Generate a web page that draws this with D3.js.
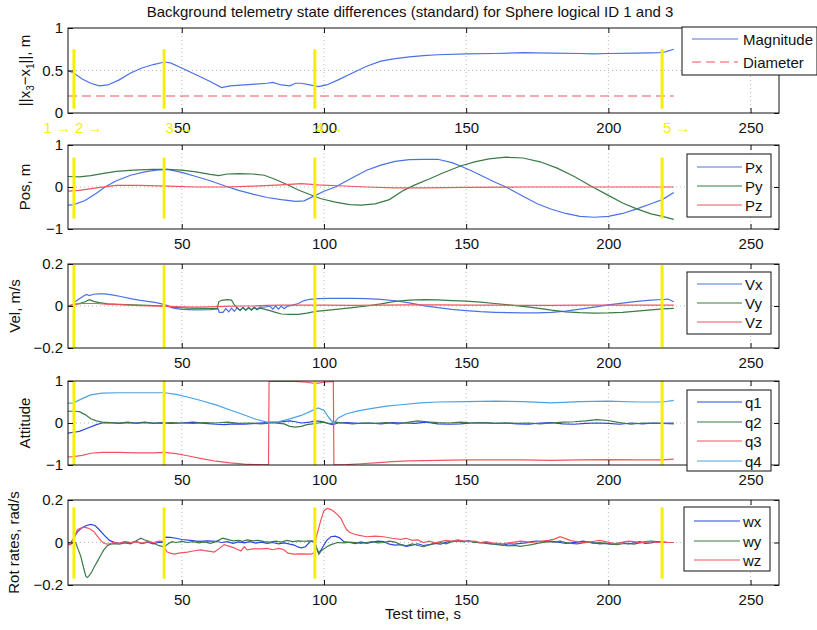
<!DOCTYPE html>
<html>
<head>
<meta charset="utf-8">
<script src="https://cdn.jsdelivr.net/npm/d3@7"></script>
<style>
  body { margin: 0; background: #fff; }
  svg { display: block; font-family: "Liberation Sans", Arial, Helvetica, sans-serif; }
</style>
</head>
<body>
<svg id="chart" width="817" height="630"></svg>
<script>
// ---- Data: [time (s), value] ----
const xTicks = [50, 100, 150, 200, 250];
const eventTimes = [1.0, 12.1, 43.8, 96.8, 218.9];
const eventLabels = ["1 \u2192", "2 \u2192", "3 \u2192", "4 \u2192", "5 \u2192"];

const magnitude = [[10,0.50],[12,0.47],[15,0.40],[18,0.35],[21,0.32],[24,0.33],[28,0.39],[32,0.47],[36,0.53],[40,0.57],[44,0.60],[46,0.59],[50,0.53],[55,0.45],[60,0.37],[64,0.30],[67,0.32],[72,0.33],[76,0.34],[80,0.35],[82,0.36],[85,0.33],[88,0.32],[90,0.35],[92,0.35],[95,0.33],[98,0.31],[101,0.33],[105,0.39],[110,0.47],[115,0.55],[120,0.61],[125,0.64],[130,0.66],[135,0.675],[140,0.685],[150,0.695],[160,0.70],[170,0.71],[180,0.705],[190,0.70],[195,0.695],[200,0.70],[210,0.705],[218,0.71],[220,0.72],[223,0.75]];
const diameter = [[10,0.2],[223,0.2]];

const posX = [[10,-0.43],[12,-0.42],[16,-0.32],[20,-0.15],[23,0.0],[27,0.15],[32,0.28],[37,0.36],[41,0.40],[45,0.42],[50,0.35],[55,0.25],[60,0.15],[65,0.03],[70,-0.08],[75,-0.17],[80,-0.25],[85,-0.30],[90,-0.34],[93,-0.33],[97,-0.20],[100,-0.10],[104,0.0],[110,0.22],[115,0.40],[120,0.52],[125,0.61],[130,0.65],[135,0.66],[140,0.66],[145,0.58],[148,0.50],[152,0.38],[156,0.25],[160,0.12],[164,0.0],[170,-0.22],[175,-0.40],[180,-0.53],[185,-0.63],[190,-0.70],[195,-0.72],[200,-0.70],[205,-0.63],[210,-0.52],[215,-0.40],[219,-0.30],[223,-0.13]];
const posY = [[10,0.25],[14,0.24],[18,0.27],[22,0.32],[27,0.37],[33,0.40],[40,0.42],[45,0.42],[50,0.40],[55,0.36],[60,0.30],[63,0.27],[66,0.31],[70,0.32],[75,0.31],[79,0.28],[83,0.18],[87,0.06],[91,-0.07],[95,-0.18],[99,-0.28],[104,-0.36],[109,-0.42],[113,-0.43],[118,-0.40],[123,-0.30],[128,-0.08],[132,0.05],[137,0.19],[142,0.34],[148,0.50],[153,0.60],[158,0.67],[164,0.71],[170,0.69],[176,0.60],[182,0.45],[188,0.25],[194,0.02],[200,-0.20],[205,-0.38],[210,-0.52],[215,-0.64],[219,-0.70],[223,-0.77]];
const posZ = [[10,-0.10],[14,-0.08],[20,-0.02],[27,0.04],[35,0.04],[45,0.02],[55,0.0],[65,0.0],[75,0.02],[85,0.05],[92,0.08],[98,0.05],[105,0.03],[115,0.0],[125,-0.02],[135,-0.02],[150,-0.01],[170,0.0],[190,0.0],[210,0.0],[223,0.0]];

const velX = [[10,0.0],[11.5,0.002],[12.5,0.02],[14,0.035],[15.5,0.048],[16.5,0.055],[17.5,0.05],[19,0.056],[21,0.058],[23,0.058],[26,0.052],[29,0.044],[32,0.035],[35,0.028],[38,0.022],[41,0.016],[43,0.01],[45,0.002],[47,-0.01],[50,-0.016],[55,-0.018],[60,-0.017],[62.8,-0.014],[63.2,-0.03],[64.5,-0.03],[65.5,-0.012],[66.5,-0.028],[67.5,-0.01],[68.5,-0.025],[69.5,-0.008],[70.5,-0.022],[71.5,-0.006],[72.5,-0.02],[73.5,-0.006],[74.5,-0.018],[75.5,-0.005],[76.5,-0.015],[77.5,-0.004],[79,-0.006],[81,0.0],[82,-0.015],[83,0.0],[84,-0.015],[85,0.0],[86,-0.013],[87,-0.002],[89,0.004],[91,0.012],[93,0.026],[95,0.032],[98,0.035],[102,0.036],[106,0.037],[110,0.036],[115,0.035],[120,0.032],[125,0.025],[130,0.015],[135,0.002],[140,-0.008],[145,-0.016],[150,-0.022],[155,-0.027],[160,-0.030],[165,-0.032],[170,-0.033],[175,-0.033],[180,-0.030],[185,-0.024],[190,-0.015],[195,-0.005],[200,0.005],[205,0.014],[210,0.022],[215,0.028],[219,0.031],[221,0.033],[223,0.020]];
const velY = [[10,0.0],[12,0.005],[14,0.012],[16,0.02],[17.5,0.03],[19,0.022],[21,0.016],[24,0.01],[28,0.008],[33,0.005],[38,0.003],[44,0.0],[47,-0.006],[52,-0.01],[58,-0.012],[62.5,-0.012],[63,0.02],[64,0.027],[66,0.03],[67.5,0.028],[68.5,0.005],[69.5,-0.01],[70.5,-0.02],[71.5,-0.008],[72.5,-0.02],[73.5,-0.008],[74.5,-0.02],[75.5,-0.008],[76.5,-0.018],[77.5,-0.01],[79,-0.015],[81,-0.022],[83,-0.03],[85,-0.038],[88,-0.04],[91,-0.04],[94,-0.034],[97,-0.026],[100,-0.022],[105,-0.015],[110,-0.008],[115,0.0],[120,0.01],[125,0.022],[130,0.028],[135,0.03],[140,0.029],[145,0.026],[150,0.023],[155,0.018],[160,0.012],[165,0.005],[170,-0.002],[175,-0.01],[180,-0.02],[185,-0.028],[190,-0.032],[195,-0.034],[200,-0.033],[205,-0.03],[210,-0.024],[215,-0.018],[219,-0.014],[223,-0.011]];
const velZ = [[10,0.0],[12,0.008],[15,0.012],[20,0.012],[25,0.008],[30,0.005],[35,0.002],[40,0.0],[45,-0.002],[50,-0.004],[55,-0.005],[60,-0.004],[65,-0.002],[70,0.0],[75,0.0],[80,0.003],[85,0.004],[90,0.004],[95,0.004],[100,0.004],[110,0.003],[120,0.004],[130,0.005],[140,0.005],[150,0.004],[160,0.004],[170,0.003],[180,0.003],[190,0.004],[200,0.004],[210,0.004],[219,0.004],[223,0.004]];

const q1 = [[10,-0.24],[12,-0.22],[14,-0.2],[17,-0.12],[20,-0.04],[22,0.0],[25,0.01],[28,-0.01],[31,0.01],[34,0.0],[37,0.02],[40,-0.01],[43,0.01],[46,-0.01],[50,0.0],[54,0.02],[58,-0.01],[62,-0.03],[65,-0.04],[68,-0.02],[72,-0.03],[76,-0.01],[80,0.01],[84,0.02],[88,0.05],[90,0.03],[92,0.0],[95,0.02],[97,0.05],[99,0.04],[101,0.0],[103,-0.04],[105,0.0],[108,0.01],[112,-0.01],[116,0.0],[120,-0.02],[124,0.01],[128,0.0],[132,-0.01],[136,0.02],[140,-0.02],[144,-0.03],[148,-0.02],[152,0.0],[156,0.01],[160,-0.01],[164,0.0],[168,-0.02],[172,-0.03],[176,0.0],[180,0.01],[184,-0.02],[188,-0.03],[192,-0.01],[196,0.0],[200,-0.01],[204,-0.03],[208,0.0],[212,-0.02],[216,0.0],[219,-0.01],[223,0.0]];
const q2 = [[10,0.28],[12,0.28],[14,0.27],[16,0.2],[18,0.1],[20,0.05],[22,0.02],[25,0.01],[28,0.0],[31,0.02],[34,-0.01],[37,0.01],[40,0.0],[43,-0.01],[46,0.01],[50,0.0],[54,-0.01],[58,0.01],[62,0.0],[66,0.02],[70,-0.01],[74,0.0],[78,-0.02],[82,0.01],[86,-0.02],[88,-0.08],[90,-0.1],[92,-0.08],[94,-0.04],[96,-0.02],[98,0.0],[100,0.02],[102,-0.02],[104,0.02],[107,0.0],[110,-0.02],[114,0.0],[118,-0.01],[122,0.01],[126,-0.02],[130,0.02],[133,0.05],[136,0.03],[140,0.01],[144,0.0],[148,0.02],[152,0.0],[156,0.01],[160,-0.01],[164,0.0],[168,-0.01],[172,0.0],[176,-0.02],[180,0.0],[184,0.02],[188,0.03],[192,0.05],[196,0.08],[200,0.06],[204,0.01],[208,-0.03],[212,0.0],[216,-0.01],[219,-0.01],[223,-0.02]];
const q3 = [[10,-0.81],[12,-0.8],[15,-0.77],[18,-0.72],[22,-0.70],[28,-0.70],[34,-0.71],[40,-0.71],[44,-0.70],[48,-0.73],[52,-0.78],[57,-0.85],[62,-0.91],[67,-0.95],[72,-0.98],[76,-0.99],[80.5,-0.995],[80.7,0.995],[85,0.99],[90,0.99],[94,0.97],[96,0.95],[98,0.95],[100,0.97],[103.3,0.99],[103.5,-0.995],[108,-0.99],[113,-0.97],[118,-0.95],[124,-0.92],[130,-0.90],[140,-0.89],[150,-0.88],[160,-0.88],[170,-0.88],[180,-0.89],[190,-0.88],[200,-0.87],[210,-0.88],[219,-0.88],[223,-0.86]];
const q4 = [[10,0.47],[12,0.48],[15,0.58],[18,0.67],[22,0.71],[28,0.72],[35,0.72],[40,0.72],[44,0.72],[48,0.68],[52,0.62],[57,0.53],[62,0.43],[67,0.31],[72,0.19],[76,0.09],[80,0.02],[84,0.03],[88,0.10],[92,0.18],[96,0.30],[98,0.36],[100,0.30],[102,0.10],[103.5,0.0],[105,0.12],[108,0.22],[112,0.29],[117,0.35],[122,0.40],[128,0.44],[134,0.48],[140,0.50],[150,0.51],[160,0.52],[170,0.51],[180,0.48],[190,0.51],[200,0.52],[210,0.50],[219,0.50],[223,0.54]];

const rateX = [[10,0.0],[11,0.0],[12,0.02],[13.3,0.05],[15,0.07],[16.5,0.08],[18,0.085],[19.5,0.08],[21,0.06],[22.7,0.035],[24.6,0.01],[26,0.002],[28,-0.004],[30,0.003],[32,-0.002],[34,0.004],[36,-0.005],[38,0.002],[40,-0.006],[42,0.001],[43.6,0.0],[44,0.025],[46,0.024],[48,0.02],[50,0.014],[53,0.01],[56,0.005],[59,0.008],[62,0.006],[64,0.0],[66,0.004],[68,-0.004],[70,0.003],[72,-0.002],[74,0.004],[76,-0.003],[78,0.002],[80,-0.004],[82,0.0],[84,-0.006],[86,-0.002],[88,-0.008],[89.5,-0.012],[91,-0.022],[92,-0.025],[93.5,-0.02],[94.5,-0.005],[95.5,0.008],[96.8,0.005],[97.5,-0.03],[98.2,-0.05],[99,-0.035],[100,-0.012],[101,0.01],[102.4,0.027],[104,0.03],[105.5,0.022],[107,0.004],[109,0.0],[111,-0.005],[113,0.003],[115,-0.004],[117,0.002],[119,0.006],[121,0.004],[123,-0.008],[125,-0.012],[127,-0.01],[129,-0.018],[131,-0.012],[133,-0.006],[135,-0.014],[137,-0.01],[139,-0.004],[141,-0.008],[143,0.002],[145,0.006],[147,0.01],[149,0.004],[151,0.008],[153,0.002],[155,-0.002],[157,0.0],[159,-0.006],[161,-0.01],[163,-0.012],[165,-0.006],[167,-0.008],[169,-0.004],[171,-0.002],[173,0.004],[175,0.006],[177,0.002],[179,0.008],[181,0.004],[183,0.0],[185,-0.004],[187,-0.002],[189,0.002],[191,0.006],[193,0.002],[195,-0.002],[197,-0.006],[199,-0.004],[201,-0.008],[203,-0.004],[205,0.0],[207,-0.006],[209,-0.002],[211,0.004],[213,-0.004],[215,-0.002],[217,0.004],[219,0.002],[221,0.0],[223,0.0]];
const rateY = [[10,0.0],[12,0.0],[12.7,0.0],[13.5,-0.03],[14.5,-0.065],[15.5,-0.12],[16.3,-0.16],[16.8,-0.165],[17.5,-0.155],[18.3,-0.14],[19.2,-0.115],[20.3,-0.09],[21.5,-0.06],[22.6,-0.035],[23.8,-0.015],[25,-0.008],[26.2,-0.005],[28,-0.008],[30,-0.002],[32,-0.006],[34,0.008],[35.6,0.02],[37,0.012],[38.5,0.006],[40.3,-0.005],[42,-0.015],[43.8,-0.02],[45,-0.008],[46.5,0.004],[48,0.0],[50,0.005],[52,0.0],[54,0.004],[56,-0.002],[58,0.003],[60,-0.004],[62,0.004],[64.4,0.02],[66,0.015],[68,0.008],[70,0.01],[71.4,0.005],[73,0.012],[75,0.008],[77,0.01],[79,0.004],[81,0.002],[83,0.006],[85,0.002],[87,0.01],[89,0.004],[91,0.008],[93,0.006],[94.5,0.008],[96.4,0.005],[97.2,-0.02],[98.2,-0.055],[99,-0.04],[100,-0.03],[101,-0.02],[102.5,-0.01],[104.8,0.0],[107,-0.002],[109,0.002],[111,0.0],[113,-0.004],[115,0.0],[117,0.004],[119,-0.002],[121,0.0],[123,0.006],[125,0.002],[127,-0.01],[129,-0.016],[131,-0.006],[133,-0.014],[135,-0.02],[137,-0.012],[139,-0.004],[141,0.0],[143,-0.006],[145,0.004],[147,0.008],[149,0.004],[151,0.006],[153,0.0],[155,0.0],[157,-0.004],[159,-0.008],[161,-0.006],[163,-0.012],[165,-0.016],[167,-0.014],[169,-0.018],[171,-0.014],[173,-0.01],[175,-0.004],[177,0.0],[179,0.004],[181,0.002],[183,0.006],[185,0.0],[187,-0.004],[189,-0.006],[191,-0.002],[193,0.002],[195,-0.004],[197,0.0],[199,-0.004],[201,-0.008],[203,-0.01],[205,-0.006],[207,-0.004],[209,-0.008],[211,-0.002],[213,0.004],[215,0.006],[217,0.004],[219,0.002],[221,0.0],[223,0.0]];
const rateZ = [[10,-0.01],[11,-0.01],[12,0.02],[13.3,0.06],[14.5,0.068],[15.7,0.072],[17,0.068],[18.2,0.06],[19.2,0.05],[20.3,0.03],[21.5,0.01],[22.7,-0.005],[24,-0.008],[26,0.0],[28,-0.004],[30,0.004],[32,0.0],[34,0.003],[36,-0.003],[38,0.004],[40,0.0],[42,0.006],[43.5,0.005],[44.2,-0.03],[44.9,-0.045],[46,-0.05],[47.3,-0.055],[49,-0.05],[52,-0.045],[54,-0.04],[56.7,-0.035],[58,-0.038],[60,-0.042],[61.4,-0.045],[63,-0.03],[64.9,-0.01],[66,-0.015],[68.4,-0.025],[70.8,-0.04],[72,-0.02],[73,-0.035],[75,-0.03],[77.9,-0.03],[80,-0.028],[82,-0.034],[84,-0.028],[85,-0.03],[86,-0.035],[87.3,-0.05],[89.5,-0.055],[92,-0.054],[95.2,-0.055],[96.6,-0.05],[97.2,0.02],[98.2,0.07],[99,0.11],[100,0.15],[101.2,0.16],[102.5,0.155],[103.6,0.145],[104.8,0.13],[105.9,0.115],[107,0.085],[108,0.06],[109,0.048],[110.5,0.04],[112,0.035],[115,0.027],[118,0.03],[121,0.027],[124,0.02],[127,0.015],[129,0.02],[131,0.01],[133,0.012],[135,0.0],[137,0.006],[139,-0.002],[141,0.004],[143,0.01],[145,0.006],[147,0.012],[149,0.008],[151,0.004],[153,0.006],[155,0.0],[157,0.004],[159,-0.002],[161,-0.004],[163,-0.006],[165,-0.002],[167,0.002],[169,0.006],[171,0.004],[173,0.0],[175,0.004],[177,0.008],[179,0.01],[181,0.016],[183,0.027],[185,0.018],[187,0.008],[189,0.004],[191,0.0],[193,0.002],[195,0.006],[197,0.01],[199,0.004],[201,-0.002],[203,-0.006],[205,0.002],[207,0.006],[209,0.004],[211,-0.002],[213,0.002],[215,0.004],[217,0.0],[219,0.002],[221,0.0],[223,0.0]];

// ---- Layout and styling ----
const C = {
  blue: "#4a72e4", green: "#3b7a45", red: "#f0555f",
  dblue: "#2a45e6", lblue: "#4da2e2", yellow: "#f6f000"
};
const fontStack = '"Liberation Sans", Arial, Helvetica, sans-serif';

const panels = [
  { top: 28, h: 85, domain: [0, 1], ticks: [0, 0.5, 1], ev: [0.05, 0.75],
    ylabelX: 30, grid: [0.5],
    series: [
      { data: magnitude, name: "Magnitude", color: C.blue },
      { data: diameter, name: "Diameter", color: C.red, dash: "9,5" }
    ],
    legend: { x: 682, y: 27, w: 135, h: 48, rows: [39, 62], lx: [692, 738], tx: 743 } },
  { top: 145, h: 84, domain: [-1, 1], ticks: [-1, 0, 1], ev: [-0.75, 0.7],
    ylabel: "Pos, m", ylabelX: 30, grid: [0],
    series: [
      { data: posX, name: "Px", color: C.blue },
      { data: posY, name: "Py", color: C.green },
      { data: posZ, name: "Pz", color: C.red }
    ],
    legend: { x: 687, y: 154, w: 84, h: 63, rows: [167, 186, 205], lx: [697, 742], tx: 745 } },
  { top: 264, h: 84, domain: [-0.2, 0.2], ticks: [-0.2, 0, 0.2], ev: [-0.195, 0.195],
    ylabel: "Vel, m/s", ylabelX: 20, grid: [0],
    series: [
      { data: velX, name: "Vx", color: C.blue },
      { data: velY, name: "Vy", color: C.green },
      { data: velZ, name: "Vz", color: C.red }
    ],
    legend: { x: 687, y: 272, w: 84, h: 62, rows: [284, 303, 322], lx: [697, 742], tx: 745 } },
  { top: 381, h: 84, domain: [-1, 1], ticks: [-1, 0, 1], ev: [-1, 1],
    ylabel: "Attitude", ylabelX: 30, grid: [0],
    series: [
      { data: q1, name: "q1", color: C.dblue },
      { data: q2, name: "q2", color: C.green },
      { data: q3, name: "q3", color: C.red },
      { data: q4, name: "q4", color: C.lblue }
    ],
    legend: { x: 687, y: 390, w: 84, h: 81, rows: [402, 422, 441, 461], lx: [697, 742], tx: 745 } },
  { top: 500, h: 85, domain: [-0.2, 0.2], ticks: [-0.2, 0, 0.2], ev: [-0.17, 0.165],
    ylabel: "Rot rates, rad/s", ylabelX: 19, grid: [0],
    series: [
      { data: rateX, name: "wx", color: C.dblue },
      { data: rateY, name: "wy", color: C.green },
      { data: rateZ, name: "wz", color: C.red }
    ],
    legend: { x: 684, y: 507, w: 86, h: 64, rows: [521, 541, 560], lx: [694, 740], tx: 743 } }
];

const svg = d3.select("#chart");
const x = d3.scaleLinear().domain([10, 260]).range([68, 779]);
const [x0, x1] = x.range();

// Title
svg.append("text")
  .attr("x", 410).attr("y", 17)
  .attr("text-anchor", "middle")
  .attr("font-size", 15)
  .attr("fill", "#111")
  .text("Background telemetry state differences (standard) for Sphere logical ID 1 and 3");

panels.forEach((p, i) => {
  const y = d3.scaleLinear().domain(p.domain).range([p.top + p.h, p.top]);
  const g = svg.append("g");

  const clipId = "clip" + i;
  svg.append("clipPath").attr("id", clipId)
    .append("rect").attr("x", x0).attr("y", p.top).attr("width", x1 - x0).attr("height", p.h);

  // dotted grid
  const grid = g.append("g").attr("stroke", "#b8b8b8").attr("stroke-width", 1)
    .attr("stroke-dasharray", "1,3");
  xTicks.forEach(t => grid.append("line")
    .attr("x1", x(t)).attr("x2", x(t)).attr("y1", p.top).attr("y2", p.top + p.h));
  p.grid.forEach(v => grid.append("line")
    .attr("x1", x0).attr("x2", x1).attr("y1", y(v)).attr("y2", y(v)));

  // series
  const line = d3.line().x(d => x(d[0])).y(d => y(d[1]));
  const lines = g.append("g").attr("clip-path", `url(#${clipId})`);
  p.series.forEach(s => {
    lines.append("path")
      .attr("d", line(s.data))
      .attr("fill", "none")
      .attr("stroke", s.color)
      .attr("stroke-width", 1.2)
      .attr("stroke-dasharray", s.dash || null);
  });

  // event markers
  eventTimes.forEach(t => {
    lines.append("line")
      .attr("x1", x(t)).attr("x2", x(t))
      .attr("y1", y(p.ev[0])).attr("y2", y(p.ev[1]))
      .attr("stroke", C.yellow).attr("stroke-width", 3);
  });

  // axes
  const fmt = d3.format("~g");
  const ax = g.append("g").attr("transform", `translate(0,${p.top + p.h})`)
    .call(d3.axisBottom(x).tickValues(xTicks).tickSizeInner(-5).tickSizeOuter(0).tickPadding(9));
  g.append("g").attr("transform", `translate(0,${p.top})`)
    .call(d3.axisTop(x).tickValues(xTicks).tickSizeInner(-5).tickSizeOuter(0).tickFormat(""));
  const ay = g.append("g").attr("transform", `translate(${x0},0)`)
    .call(d3.axisLeft(y).tickValues(p.ticks).tickFormat(fmt).tickSizeInner(-5).tickSizeOuter(0).tickPadding(5));
  g.append("g").attr("transform", `translate(${x1},0)`)
    .call(d3.axisRight(y).tickValues(p.ticks).tickSizeInner(-5).tickSizeOuter(0).tickFormat(""));
  g.selectAll(".domain").remove();
  g.selectAll(".tick line").attr("stroke", "#111");
  [ax, ay].forEach(a => a.attr("font-family", fontStack).attr("font-size", 15)
    .selectAll("text").attr("fill", "#111"));

  g.append("rect")
    .attr("x", x0).attr("y", p.top).attr("width", x1 - x0).attr("height", p.h)
    .attr("fill", "none").attr("stroke", "#111").attr("stroke-width", 1);

  // y label
  const yl = g.append("text")
    .attr("transform", `translate(${p.ylabelX},${p.top + p.h / 2}) rotate(-90)`)
    .attr("text-anchor", "middle")
    .attr("font-size", 15)
    .attr("fill", "#111");
  if (p.ylabel) {
    yl.text(p.ylabel);
  } else {
    yl.append("tspan").text("||x");
    yl.append("tspan").attr("font-size", 10).attr("dy", 4).text("3");
    yl.append("tspan").attr("dy", -4).text("\u2212x");
    yl.append("tspan").attr("font-size", 10).attr("dy", 4).text("1");
    yl.append("tspan").attr("dy", -4).text("||, m");
  }

  // legend
  const L = p.legend;
  const lg = g.append("g");
  lg.append("rect").attr("x", L.x).attr("y", L.y).attr("width", L.w).attr("height", L.h)
    .attr("fill", "#fff").attr("stroke", "#111").attr("stroke-width", 1);
  p.series.forEach((s, k) => {
    lg.append("line")
      .attr("x1", L.lx[0]).attr("x2", L.lx[1]).attr("y1", L.rows[k]).attr("y2", L.rows[k])
      .attr("stroke", s.color).attr("stroke-width", 1.2)
      .attr("stroke-dasharray", s.dash || null);
    lg.append("text")
      .attr("x", L.tx).attr("y", L.rows[k] + 5.5)
      .attr("font-size", 15).attr("fill", "#111")
      .text(s.name);
  });
});

// event labels under the first panel
const p0 = panels[0];
eventTimes.forEach((t, k) => {
  svg.append("text")
    .attr("x", x(t) + 1).attr("y", p0.top + p0.h + 20)
    .attr("font-size", 15)
    .attr("fill", C.yellow)
    .text(eventLabels[k]);
});

// x label
svg.append("text")
  .attr("x", 423).attr("y", 619)
  .attr("text-anchor", "middle")
  .attr("font-size", 15)
  .attr("fill", "#111")
  .text("Test time, s");
</script>
</body>
</html>
